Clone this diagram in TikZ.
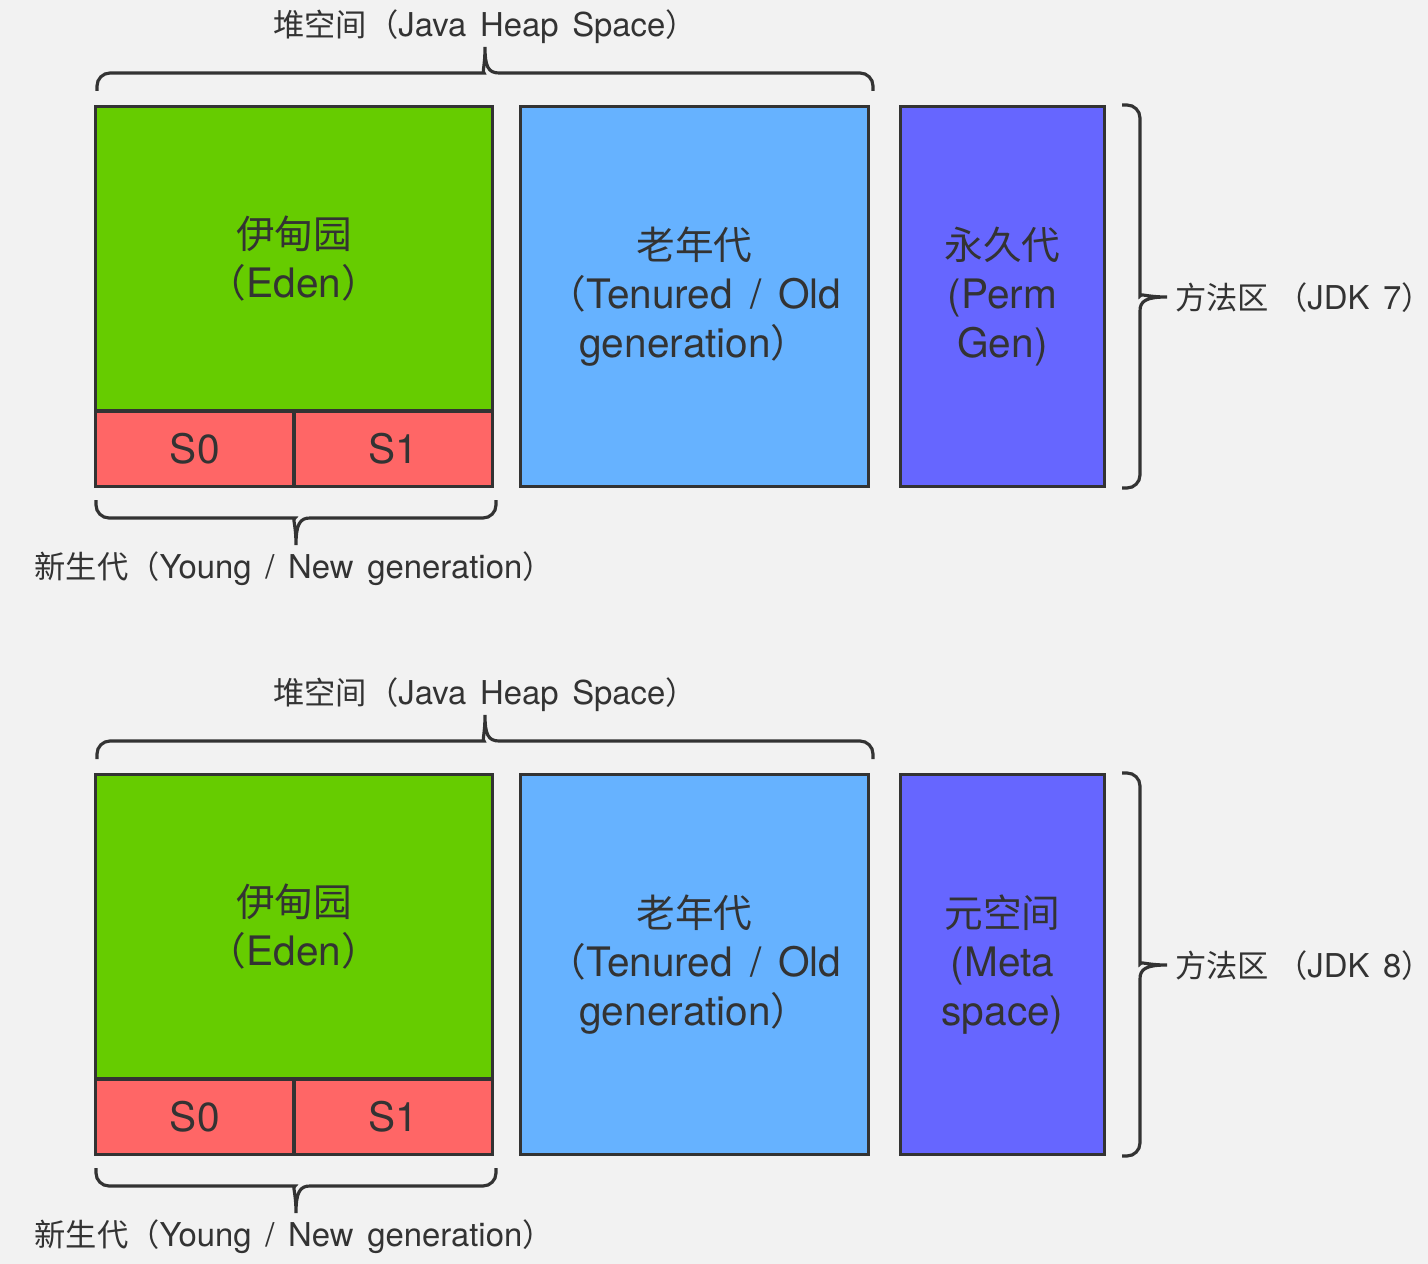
\documentclass[tikz,border=0pt]{standalone}
\usepackage{fontspec}
\setmainfont{TeX Gyre Heros}[Scale=1.05, WordSpace=1.5]
\newfontfamily\cjk{Noto Sans CJK SC}
\usepackage{tikz}
\definecolor{bg}{HTML}{F2F2F2}
\definecolor{ink}{HTML}{333333}
\definecolor{edencol}{HTML}{66CC00}
\definecolor{survcol}{HTML}{FF6666}
\definecolor{oldcol}{HTML}{66B2FF}
\definecolor{permcol}{HTML}{6666FF}
\tikzstyle{area}=[draw=ink, line width=1.8pt, inner sep=0pt, align=center, text=ink, font=\fontsize{22}{27.8}\selectfont]
\tikzstyle{note}=[text=ink, inner sep=0pt, font=\fontsize{17.8}{22}\selectfont]
\tikzstyle{brc}=[draw=ink, line width=1.8pt]

\begin{document}
\begin{tikzpicture}[x=0.02cm, y=-0.02cm]
        \useasboundingbox[fill=bg] (0,0) rectangle (1428,1264);
        % JDK 7
        \node[area, fill=edencol, minimum width=7.94cm, minimum height=6.09cm] (Ed) at (294,258.75) {{\cjk 伊甸园}\\{\cjk （}Eden{\cjk ）}}
        ;
        \node[area, fill=survcol, minimum width=3.97cm, minimum height=1.51cm] (S0) at (194.75,448.75) {S0}
        ;
        \node[area, fill=survcol, minimum width=3.97cm, minimum height=1.51cm] (S1) at (393.25,448.75) {S1}
        ;
        \node[area, fill=oldcol, minimum width=6.96cm, minimum height=7.6cm] (Old) at (694.5,296.5) {{\cjk 老年代}\\{\cjk （}Tenured / Old\\generation{\cjk ）}}
        ;
        \node[area, fill=permcol, minimum width=4.08cm, minimum height=7.6cm] (Perm) at (1002.5,296.5) {{\cjk 永久代}\\(Perm\\Gen)}
        ;
        \draw[brc] (97,91) [rounded corners=0.26cm] |- (471,73) [sharp corners] .. controls (482,73) and (485,66) .. (485,47)
            .. controls (485,66) and (488,73) .. (499,73) [rounded corners=0.26cm] -| (873,91);
        \node[note] (Heap) at (485,27) {{\cjk 堆空间（}Java Heap Space{\cjk ）}};
        \draw[brc] (96,500) [rounded corners=0.26cm] |- (282,518) [sharp corners] .. controls (292,518) and (296,524) .. (296,545)
            .. controls (296,524) and (300,518) .. (310,518) [rounded corners=0.26cm] -| (496,500);
        \node[note] (Young) at (294,569) {{\cjk 新生代（}Young / New generation{\cjk ）}};
        \draw[brc] (1122,105) [rounded corners=0.26cm] -| (1140,283) [sharp corners] .. controls (1140,293) and (1146,297) .. (1167,297)
            .. controls (1146,297) and (1140,301) .. (1140,311) [rounded corners=0.26cm] |- (1122,488);
        \node[note, anchor=west] (MA) at (1175,298) {{\cjk 方法区 （}JDK 7{\cjk ）}};
        % JDK 8
        \begin{scope}[shift={(0,668)}]
        \node[area, fill=edencol, minimum width=7.94cm, minimum height=6.09cm] (Ed2) at (294,258.75) {{\cjk 伊甸园}\\{\cjk （}Eden{\cjk ）}}
        ;
        \node[area, fill=survcol, minimum width=3.97cm, minimum height=1.51cm] (S02) at (194.75,448.75) {S0}
        ;
        \node[area, fill=survcol, minimum width=3.97cm, minimum height=1.51cm] (S12) at (393.25,448.75) {S1}
        ;
        \node[area, fill=oldcol, minimum width=6.96cm, minimum height=7.6cm] (Old2) at (694.5,296.5) {{\cjk 老年代}\\{\cjk （}Tenured / Old\\generation{\cjk ）}}
        ;
        \node[area, fill=permcol, minimum width=4.08cm, minimum height=7.6cm] (Meta) at (1002.5,296.5) {{\cjk 元空间}\\(Meta\\space)}
        ;
        \draw[brc] (97,91) [rounded corners=0.26cm] |- (471,73) [sharp corners] .. controls (482,73) and (485,66) .. (485,47)
            .. controls (485,66) and (488,73) .. (499,73) [rounded corners=0.26cm] -| (873,91);
        \node[note] (Heap2) at (485,27) {{\cjk 堆空间（}Java Heap Space{\cjk ）}};
        \draw[brc] (96,500) [rounded corners=0.26cm] |- (282,518) [sharp corners] .. controls (292,518) and (296,524) .. (296,545)
            .. controls (296,524) and (300,518) .. (310,518) [rounded corners=0.26cm] -| (496,500);
        \node[note] (Young2) at (294,569) {{\cjk 新生代（}Young / New generation{\cjk ）}};
        \draw[brc] (1122,105) [rounded corners=0.26cm] -| (1140,283) [sharp corners] .. controls (1140,293) and (1146,297) .. (1167,297)
            .. controls (1146,297) and (1140,301) .. (1140,311) [rounded corners=0.26cm] |- (1122,488);
        \node[note, anchor=west] (MA2) at (1175,298) {{\cjk 方法区 （}JDK 8{\cjk ）}};
        \end{scope}
    \end{tikzpicture}
\end{document}
